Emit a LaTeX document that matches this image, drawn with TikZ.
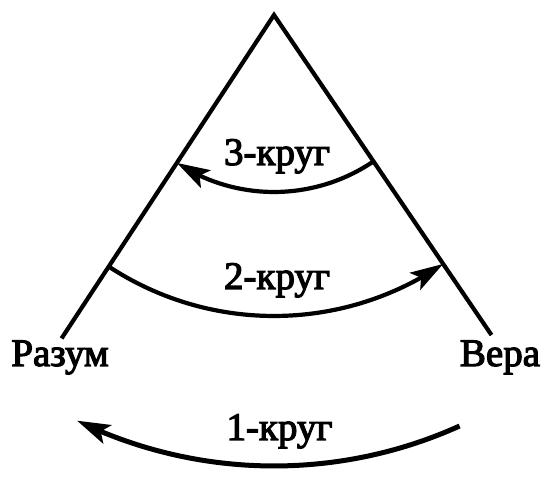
\documentclass[tikz,border=0pt]{standalone}
\usepackage{fontspec}
\setmainfont{Liberation Serif}
\newfontfamily\labfont{Liberation Serif}[FakeBold=3]
\usetikzlibrary{arrows.meta,bending}
\begin{document}
\begin{tikzpicture}[x=1pt,y=1pt,
  side/.style={line width=4.2pt},
  arcline/.style={line width=4.2pt},
  tip/.style={-{Stealth[length=33pt,width=20pt,inset=7pt]}},
  lab/.style={font=\labfont\fontsize{39}{47}\selectfont, anchor=base, inner sep=0pt}]
\useasboundingbox (0,0) rectangle (550,480);
\coordinate (apex) at (274,465);
\coordinate (L) at ([shift={(236.7:387pt)}]apex);
\coordinate (R) at ([shift={(304.2:387pt)}]apex);
\draw[side] (L) -- (apex) -- (R);
% 3rd circle
\coordinate (a3s) at ([shift={(304.2:177pt)}]apex);
\draw[arcline,tip] (a3s) arc[start angle=304.2,end angle=236.7,radius=177pt];
% 2nd circle
\coordinate (a2s) at ([shift={(236.7:301pt)}]apex);
\draw[arcline,tip] (a2s) arc[start angle=236.7,end angle=304.2,radius=301pt];
% 1st circle
\coordinate (a1s) at ([shift={(294.3:451pt)}]apex);
\draw[arcline,line width=5pt,tip] (a1s) arc[start angle=294.3,end angle=244.1,radius=451pt];
% labels
\node[lab] (k3) at (277,315) {3-круг};
\node[lab] (k2) at (277,191) {2-круг};
\node[lab] (k1) at (279.5,40) {1-круг};
\node[lab] (razum) at (60,114) {Разум};
\node[lab] (vera) at (500,114) {Вера};
\end{tikzpicture}
\end{document}
